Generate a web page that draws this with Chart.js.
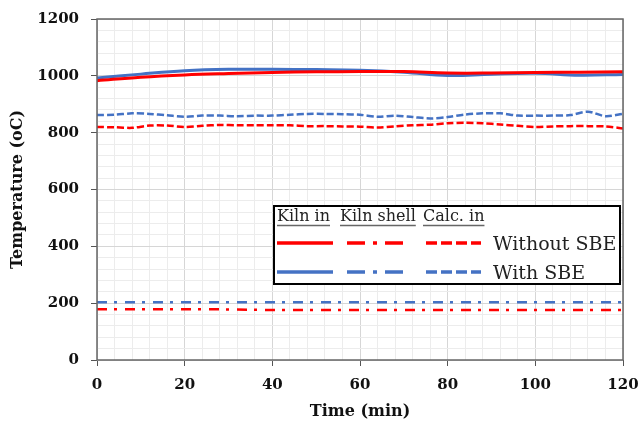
<!DOCTYPE html>
<html>
<head>
<meta charset="utf-8">
<script src="https://cdn.jsdelivr.net/npm/chart.js@4.4.0/dist/chart.umd.min.js"></script>
<style>
  html, body { margin: 0; padding: 0; background: #fff; }
</style>
</head>
<body>
<canvas id="grafico" width="638" height="425"></canvas>
<script>
// tempo (min)
const tempoKiln = [0, 10, 20, 30, 40, 50, 60, 70, 80, 90, 100, 110, 120];
const tempoCalc = [0, 4, 8, 12, 16, 20, 24, 28, 32, 36, 40, 44, 48, 52, 56, 60,
                   64, 68, 72, 76, 80, 84, 88, 92, 96, 100, 104, 108, 112, 116, 120];

// Kiln in
const kilnInSem = [983, 995, 1003, 1008, 1012, 1014, 1015, 1015, 1010, 1010, 1012, 1013, 1014];
const kilnInCom = [992, 1006, 1018, 1023, 1023, 1022, 1020, 1013, 1001, 1006, 1009, 1002, 1005];

// Kiln shell
const shellSem = [179, 179, 179, 178, 176, 176, 176, 176, 176, 176, 176, 176, 176];
const shellCom = [203, 203, 203, 203, 203, 203, 203, 203, 203, 203, 203, 203, 203];

// Calc. in
const calcSem = [820, 819, 817, 825, 825, 820, 824, 827, 826, 826, 826, 826, 823, 823, 822, 821,
                 818, 822, 826, 828, 833, 835, 833, 829, 824, 820, 822, 823, 823, 822, 815];
const calcCom = [862, 863, 868, 866, 861, 856, 860, 860, 858, 860, 860, 863, 866, 866, 865, 863,
                 856, 860, 855, 850, 855, 864, 868, 868, 860, 860, 860, 862, 874, 858, 866];

const cabecalhos = ['Kiln in', 'Kiln shell', 'Calc. in'];
const rotulos = ['Without SBE', 'With SBE'];

const VERMELHO = '#ff0000';
const AZUL = '#4472c4';

function pontos(ts, vs) {
  return ts.map((t, i) => ({ x: t, y: vs[i] }));
}

function serie(ts, vs, cor, traco, tensao) {
  return {
    data: pontos(ts, vs),
    borderColor: cor,
    borderWidth: traco.length ? 2.5 : 3,
    borderDash: traco,
    pointRadius: 0,
    tension: tensao,
    fill: false
  };
}

// moldura + legenda desenhadas à mão
const extras = {
  id: 'extras',
  afterDraw(chart) {
    const ctx = chart.ctx;
    const a = chart.chartArea;
    ctx.save();
    ctx.strokeStyle = '#666';
    ctx.lineWidth = 1.5;
    ctx.strokeRect(a.left, a.top, a.right - a.left, a.bottom - a.top);

    // caixa da legenda
    ctx.fillStyle = '#fff';
    ctx.fillRect(274, 206, 346, 78);
    ctx.strokeStyle = '#000';
    ctx.lineWidth = 2;
    ctx.strokeRect(274, 206, 346, 78);

    ctx.fillStyle = '#222';
    ctx.font = '16px "DejaVu Serif"';
    ctx.textBaseline = 'alphabetic';
    const xs = [277, 340, 423];
    cabecalhos.forEach((c, i) => {
      ctx.fillText(c, xs[i], 221);
      const w = ctx.measureText(c).width;
      ctx.strokeStyle = '#666';
      ctx.lineWidth = 1.5;
      ctx.beginPath();
      ctx.moveTo(xs[i], 225.5);
      ctx.lineTo(xs[i] + w, 225.5);
      ctx.stroke();
    });

    const linhas = [[243, VERMELHO], [272, AZUL]];
    linhas.forEach(([y, cor], k) => {
      ctx.strokeStyle = cor;
      ctx.lineWidth = 3.5;
      [[277, 333, []], [347, 408, [18, 8, 4, 8]], [426, 481, [11, 4]]].forEach(([x0, x1, d]) => {
        ctx.setLineDash(d);
        ctx.beginPath();
        ctx.moveTo(x0, y);
        ctx.lineTo(x1, y);
        ctx.stroke();
      });
      ctx.setLineDash([]);
      ctx.fillStyle = '#222';
      ctx.font = '19px "DejaVu Serif"';
      ctx.fillText(rotulos[k], 493, y + 7);
    });
    ctx.restore();
  }
};

const fonteTick = { family: 'DejaVu Serif', size: 15, weight: 'bold' };
const fonteTitulo = { family: 'DejaVu Serif', size: 16, weight: 'bold' };

const ctx = document.getElementById('grafico').getContext('2d');
new Chart(ctx, {
  type: 'line',
  data: {
    datasets: [
      serie(tempoKiln, kilnInSem, VERMELHO, [], 0.4),
      serie(tempoKiln, shellSem, VERMELHO, [10, 7, 3, 8], 0),
      serie(tempoCalc, calcSem, VERMELHO, [7, 3], 0.3),
      serie(tempoKiln, kilnInCom, AZUL, [], 0.4),
      serie(tempoKiln, shellCom, AZUL, [10, 7, 3, 8], 0),
      serie(tempoCalc, calcCom, AZUL, [7, 3], 0.3)
    ]
  },
  options: {
    responsive: false,
    animation: false,
    layout: { padding: { top: 19, right: 15, left: 0, bottom: 0 } },
    plugins: {
      legend: { display: false },
      tooltip: { enabled: false }
    },
    scales: {
      x: {
        type: 'linear',
        min: 0,
        max: 120,
        afterFit: s => { s.height = 65; s.paddingLeft = 0; s.paddingRight = 0; },
        border: { display: false },
        grid: {
          color: c => (c.tick && c.tick.value % 20 === 0) ? '#d6d6d6' : '#ececec',
          tickColor: c => (c.tick && c.tick.value % 20 === 0) ? '#555' : 'rgba(0,0,0,0)',
          tickLength: 6
        },
        ticks: {
          stepSize: 4,
          autoSkip: false,
          maxRotation: 0,
          padding: 10,
          color: '#111',
          font: fonteTick,
          callback: v => v % 20 === 0 ? v : ''
        },
        title: {
          display: true,
          text: 'Time (min)',
          color: '#111',
          font: fonteTitulo,
          padding: { top: 0, bottom: 4 }
        }
      },
      y: {
        min: 0,
        max: 1200,
        afterFit: s => { s.width = 97; s.paddingTop = 0; s.paddingBottom = 0; },
        border: { display: false },
        grid: {
          color: c => (c.tick && c.tick.value % 200 === 0) ? '#d6d6d6' : '#ececec',
          tickColor: c => (c.tick && c.tick.value % 200 === 0) ? '#555' : 'rgba(0,0,0,0)',
          tickLength: 6
        },
        ticks: {
          stepSize: 40,
          autoSkip: false,
          padding: 12,
          color: '#111',
          font: fonteTick,
          callback: v => v % 200 === 0 ? v : ''
        },
        title: {
          display: true,
          text: 'Temperature (oC)',
          color: '#111',
          font: fonteTitulo,
          padding: { top: 8, bottom: 0 }
        }
      }
    }
  },
  plugins: [extras]
});
</script>
</body>
</html>
